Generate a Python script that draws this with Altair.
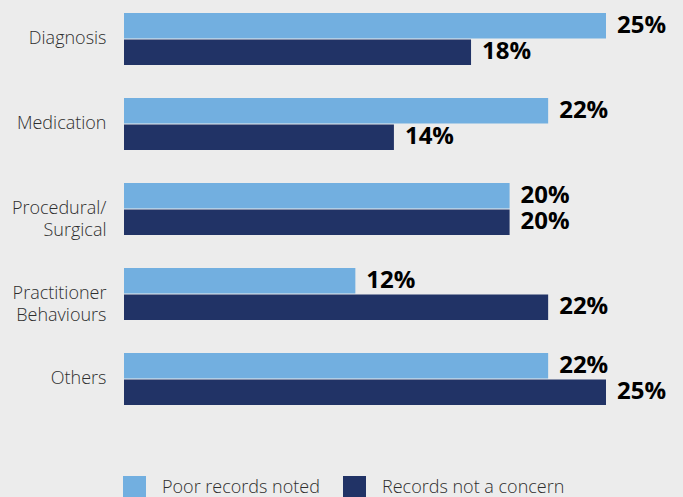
import altair as alt
import pandas as pd

categories = ["Diagnosis", "Medication", "Procedural/|Surgical", "Practitioner|Behaviours", "Others"]
series = ["Poor records noted", "Records not a concern"]
poor_records = [25, 22, 20, 12, 22]
not_concern = [18, 14, 20, 22, 25]
colors = ["#72afe0", "#213366"]

rows = []
for c, a, b in zip(categories, poor_records, not_concern):
    rows.append({"category": c, "series": series[0], "value": a})
    rows.append({"category": c, "series": series[1], "value": b})
df = pd.DataFrame(rows)
df["label"] = df["value"].astype(str) + "%"

y = alt.Y("category:N", sort=categories, title=None,
          scale=alt.Scale(paddingInner=0.388, paddingOuter=0.153),
          axis=alt.Axis(domain=False, ticks=False, labelPadding=18, labelFontSize=18,
                        labelFont="Open Sans", labelFontWeight=300, labelColor="#2e2e2e",
                        labelExpr="split(datum.label, '|')", labelLineHeight=22, labelLimit=200))
yoff = alt.YOffset("series:N", sort=series, scale=alt.Scale(paddingInner=0.04))
x = alt.X("value:Q", scale=alt.Scale(domain=[0, 25], nice=False, zero=True), axis=None, title=None)

bars = alt.Chart(df).mark_bar().encode(
    x=x, y=y, yOffset=yoff,
    color=alt.Color("series:N", sort=series, scale=alt.Scale(domain=series, range=colors),
                    legend=alt.Legend(title=None, orient="none", direction="horizontal",
                                      legendX=-1, legendY=476, symbolType="square", symbolSize=529,
                                      symbolStrokeWidth=0, symbolOpacity=1, labelFontSize=18,
                                      labelFont="Open Sans", labelFontWeight=300, labelColor="#2e2e2e",
                                      labelOffset=16, columnPadding=23, padding=0, labelLimit=300))
)

text = alt.Chart(df).mark_text(align="left", baseline="middle", dx=11, fontSize=24,
                               font="Open Sans", fontWeight="bold", color="#000000").encode(
    x=x, y=y, yOffset=yoff, text="label:N"
)

chart = (bars + text).properties(
    width=482, height=418,
    background="#ececec",
    padding={"left": 124, "top": 0, "right": 77, "bottom": 79},
    autosize=alt.AutoSizeParams(type="none"),
).configure_view(stroke=None)

chart.save("out.html", embed_options={"renderer": "svg", "actions": False})
